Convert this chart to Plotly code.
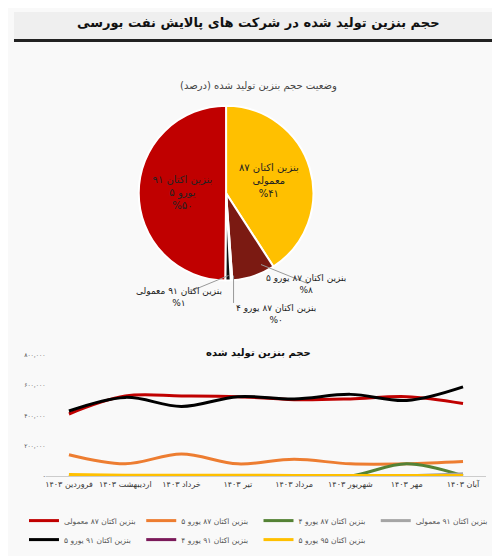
import plotly.graph_objects as go

FONT = "DejaVu Sans"
# Pie data
pie_labels = ["بنزین اکتان ۸۷ معمولی", "بنزین اکتان ۸۷ یورو ۵", "بنزین اکتان ۸۷ یورو ۴",
              "بنزین اکتان ۹۱ معمولی", "بنزین اکتان ۹۱ یورو ۵"]
pie_text = ["بنزین اکتان ۸۷<br>معمولی<br>%۴۱", "", "", "", "بنزین اکتان ۹۱<br>یورو ۵<br>%۵۰"]
pie_values = [41, 8, 0.3, 1, 50]
pie_colors = ["#FFC000", "#7B1A12", "#444444", "#111111", "#C00000"]

# Line data
months = ["فروردین ۱۴۰۳", "اردیبهشت ۱۴۰۳", "خرداد ۱۴۰۳", "تیر ۱۴۰۳",
          "مرداد ۱۴۰۳", "شهریور ۱۴۰۳", "مهر ۱۴۰۳", "آبان ۱۴۰۳"]
s87_normal = [410000, 530000, 530000, 525000, 505000, 510000, 525000, 480000]
s87_e5 = [140000, 80000, 145000, 80000, 110000, 80000, 80000, 95000]
s87_e4 = [0, 0, 0, 0, 0, 0, 80000, 0]
s91_normal = [0, 0, 0, 0, 0, 0, 2000, 15000]
s91_e5 = [430000, 520000, 460000, 525000, 510000, 540000, 500000, 590000]
s91_e4 = [0, 0, 0, 0, 3000, 0, 0, 0]
s95_e5 = [10000, 5000, 5000, 5000, 3000, 3000, 3000, 3000]
yticks = [0, 200000, 400000, 600000, 800000]
yticktext = ["-", "۲۰۰,۰۰۰", "۴۰۰,۰۰۰", "۶۰۰,۰۰۰", "۸۰۰,۰۰۰"]

series = [
    ("بنزین اکتان ۸۷ معمولی", s87_normal, "#C00000"),
    ("بنزین اکتان ۸۷ یورو ۵", s87_e5, "#ED7D31"),
    ("بنزین اکتان ۸۷ یورو ۴", s87_e4, "#548235"),
    ("بنزین اکتان ۹۱ معمولی", s91_normal, "#A5A5A5"),
    ("بنزین اکتان ۹۱ یورو ۵", s91_e5, "#000000"),
    ("بنزین اکتان ۹۱ یورو ۴", s91_e4, "#7B1A5A"),
    ("بنزین اکتان ۹۵ یورو ۵", s95_e5, "#FFC000"),
]

fig = go.Figure()
fig.add_trace(go.Pie(
    values=pie_values, labels=pie_labels, text=pie_text, textinfo="text",
    textposition=["inside", "none", "none", "none", "inside"],
    insidetextorientation="horizontal",
    marker=dict(colors=pie_colors, line=dict(color="white", width=2)),
    sort=False, direction="clockwise", rotation=0, showlegend=False,
    domain=dict(x=[0.26, 0.61], y=[0.51, 0.83]),
    textfont=dict(family=FONT, size=10, color="#222"), hoverinfo="skip"))

for name, vals, col in series:
    fig.add_trace(go.Scatter(x=months, y=vals, name=name, mode="lines",
                             line=dict(color=col, width=3, shape="spline"),
                             xaxis="x", yaxis="y"))

fig.update_layout(
    width=500, height=556, margin=dict(l=0, r=0, t=0, b=0),
    paper_bgcolor="#F9F9F9", plot_bgcolor="#F9F9F9",
    font=dict(family=FONT, size=9, color="#333"),
    xaxis=dict(domain=[0.075, 0.955], showgrid=False, showline=True, linecolor="#ccc",
               tickfont=dict(size=8), ticks="", range=[-0.4, 7.4]),
    yaxis=dict(domain=[0.155, 0.375], range=[0, 800000], tickvals=yticks, ticktext=yticktext,
               showgrid=False, zeroline=False, tickfont=dict(size=6, color="#555")),
    legend=dict(orientation="h", x=0.03, y=0.1, xanchor="left", yanchor="top",
                entrywidth=0.235, entrywidthmode="fraction", font=dict(size=7.5, color="#555"),
                bgcolor="rgba(0,0,0,0)", traceorder="normal", itemwidth=30),
    shapes=[
        dict(type="rect", xref="paper", yref="paper", x0=0.01, x1=0.99, y0=0.95, y1=1.0,
             fillcolor="#EFEFEF", line=dict(width=0)),
        dict(type="line", xref="paper", yref="paper", x0=0.01, x1=0.99, y0=0.948, y1=0.948,
             line=dict(color="#222", width=3)),
        dict(type="line", xref="paper", yref="paper", x0=0.505, x1=0.60, y0=0.54, y1=0.505,
             line=dict(color="#999", width=1)),
        dict(type="line", xref="paper", yref="paper", x0=0.45, x1=0.45, y0=0.52, y1=0.47,
             line=dict(color="#999", width=1)),
        dict(type="line", xref="paper", yref="paper", x0=0.44, x1=0.36, y0=0.52, y1=0.49,
             line=dict(color="#999", width=1)),
    ],
    annotations=[
        dict(text="<b>حجم بنزین تولید شده در شرکت های پالایش نفت بورسی</b>", x=0.5, y=0.999,
             yanchor="top", xref="paper", yref="paper", showarrow=False,
             font=dict(size=13, color="#111")),
        dict(text="وضعیت حجم بنزین تولید شده (درصد)", x=0.5, y=0.88, xref="paper", yref="paper",
             showarrow=False, font=dict(size=10, color="#444")),
        dict(text="بنزین اکتان ۸۷ یورو ۵<br>%۸", x=0.68, y=0.505, xref="paper", yref="paper",
             showarrow=False, font=dict(size=9, color="#222")),
        dict(text="بنزین اکتان ۸۷ یورو ۴<br>%۰", x=0.535, y=0.45, xref="paper", yref="paper",
             showarrow=False, font=dict(size=9, color="#222")),
        dict(text="بنزین اکتان ۹۱ معمولی<br>%۱", x=0.25, y=0.48, xref="paper", yref="paper",
             showarrow=False, font=dict(size=9, color="#222")),
        dict(text="<b>حجم بنزین تولید شده</b>", x=0.5, y=0.378, xref="paper", yref="paper",
             showarrow=False, font=dict(size=10, color="#111")),
    ],
)
fig.write_html("out.html")
